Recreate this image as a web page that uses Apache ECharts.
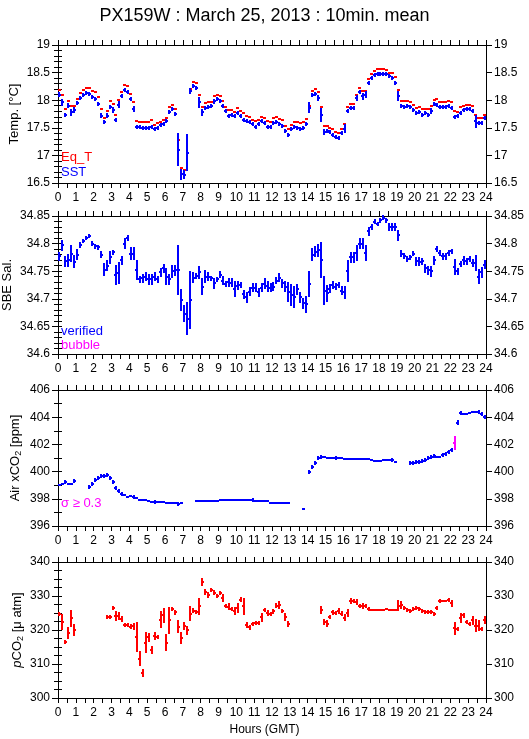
<!DOCTYPE html>
<html><head><meta charset="utf-8">
<script src="https://cdn.jsdelivr.net/npm/echarts@6/dist/echarts.min.js"></script>
<style>html,body{margin:0;padding:0;background:#fff}#c{width:529px;height:739px}</style>
</head><body><div id="c"></div>
<script>
const TITLE = 'PX159W : March 25, 2013 : 10min. mean';
// 10-minute bins: sample i covers [i*STEP, (i+1)*STEP] hours
const STEP = 1 / 6;

const sst = [
 18.10,17.96,17.73,17.90,17.78,17.82, 17.95,18.04,18.09,18.13,18.12,18.06,
 18.02,17.93,17.72,17.60,17.72,17.88, 17.82,17.65,17.92,18.07,18.18,18.15,
 18.02,17.84,17.52,17.51,17.50,17.50, 17.50,17.52,17.47,17.49,17.55,17.57,
 17.63,17.79,17.84,17.75,17.10,16.66, 16.65,17.05,18.17,18.25,18.22,17.96,
 17.78,17.86,17.88,17.90,17.98,18.02, 17.98,17.89,17.81,17.71,17.73,17.71,
 17.76,17.72,17.64,17.63,17.60,17.56, 17.51,17.56,17.62,17.59,17.52,17.52,
 17.59,17.60,17.56,17.53,17.45,17.37, 17.48,17.51,17.50,17.48,17.49,17.57,
 17.86,18.09,18.12,18.04,17.73,17.42, 17.45,17.43,17.37,17.33,17.31,17.41,
 17.48,17.80,17.86,17.86,18.04,18.15, 18.07,18.10,18.31,18.41,18.46,18.48,
 18.48,18.48,18.47,18.44,18.40,18.31, 18.07,17.90,17.88,17.89,17.87,17.82,
 17.77,17.79,17.74,17.76,17.73,17.80, 17.93,17.92,17.87,17.87,17.87,17.89,
 17.86,17.70,17.72,17.77,17.82,17.84, 17.84,17.81,17.62,17.59,17.59,17.67
];
const sstErr = [
 0.05,0.07,0.02,0.05,0.06,0.05, 0.04,0.02,0.02,0.02,0.02,0.02,
 0.02,0.04,0.04,0.02,0.04,0.04, 0.05,0.02,0.06,0.02,0.02,0.02,
 0.02,0.06,0.02,0.02,0.02,0.02, 0.02,0.02,0.02,0.02,0.02,0.03,
 0.03,0.03,0.02,0.03,0.30,0.10, 0.08,0.33,0.05,0.02,0.02,0.10,
 0.06,0.02,0.02,0.02,0.04,0.02, 0.02,0.04,0.02,0.03,0.02,0.02,
 0.02,0.03,0.02,0.02,0.02,0.02, 0.02,0.02,0.02,0.02,0.02,0.02,
 0.02,0.02,0.02,0.02,0.02,0.03, 0.03,0.02,0.02,0.02,0.02,0.03,
 0.10,0.04,0.02,0.05,0.13,0.05, 0.03,0.02,0.02,0.02,0.02,0.03,
 0.08,0.04,0.02,0.02,0.06,0.02, 0.06,0.06,0.03,0.02,0.02,0.02,
 0.02,0.02,0.02,0.02,0.02,0.04, 0.09,0.02,0.02,0.02,0.02,0.02,
 0.02,0.02,0.02,0.02,0.02,0.05, 0.02,0.02,0.02,0.02,0.02,0.02,
 0.02,0.03,0.02,0.02,0.02,0.02, 0.02,0.02,0.12,0.02,0.02,0.03
];
const eqT = [
 18.18,18.10,17.84,17.98,17.90,17.90, 18.02,18.13,18.18,18.22,18.22,18.16,
 18.14,18.06,17.84,17.68,17.80,17.98, 17.93,17.73,18.00,18.15,18.27,18.26,
 18.11,17.96,17.62,17.61,17.60,17.60, 17.60,17.64,17.55,17.58,17.61,17.64,
 17.67,17.87,17.92,17.84,17.27,16.78, 16.73,null,18.20,18.33,18.31,18.10,
 17.88,17.95,17.96,17.97,18.08,18.10, 18.07,17.99,17.88,17.82,17.82,17.79,
 17.85,17.80,17.76,17.72,17.70,17.64, 17.62,17.64,17.70,17.68,17.63,17.60,
 17.68,17.70,17.66,17.64,17.54,17.47, 17.55,17.60,17.60,17.58,17.60,17.66,
 17.90,18.16,18.20,18.15,17.87,17.53, 17.53,17.50,17.48,17.43,17.41,17.47,
 17.56,17.87,17.93,17.93,18.10,18.22, 18.17,18.17,18.39,18.48,18.53,18.57,
 18.57,18.57,18.55,18.50,18.49,18.42, 18.18,17.98,17.98,17.98,17.96,17.91,
 17.86,17.87,17.84,17.84,17.84,17.89, 18.00,18.02,17.97,17.97,17.97,17.98,
 17.96,17.80,17.79,17.87,17.90,17.92, 17.92,17.89,17.74,17.68,17.68,17.74
];
const sal = [
 34.777,34.797,34.768,34.770,34.782,34.767, 34.780,34.797,34.805,34.810,34.814,34.800,
 34.795,34.793,34.780,34.753,34.760,34.775, 34.784,34.743,34.747,34.770,34.800,34.810,
 34.782,34.782,34.752,34.735,34.737,34.740, 34.735,34.735,34.740,34.735,34.748,34.755,
 34.740,34.735,34.750,34.752,34.752,34.698, 34.673,34.664,34.698,34.738,34.741,34.748,
 34.722,34.740,34.740,34.737,34.728,34.735, 34.744,34.733,34.727,34.730,34.729,34.718,
 34.724,34.725,34.708,34.703,34.713,34.720, 34.720,34.712,34.720,34.727,34.723,34.720,
 34.722,34.733,34.738,34.728,34.722,34.713, 34.707,34.703,34.717,34.703,34.692,34.690,
 34.727,34.780,34.785,34.788,34.770,34.715, 34.710,34.718,34.725,34.722,34.725,34.715,
 34.712,34.750,34.775,34.775,34.783,34.800, 34.800,34.783,34.822,34.830,34.840,34.835,
 34.842,34.847,34.842,34.830,34.830,34.830, 34.815,34.782,34.778,34.772,34.775,34.782,
 34.768,34.767,34.768,34.755,34.752,34.750, 34.770,34.790,34.783,34.777,34.777,34.783,
 34.786,34.758,34.750,34.763,34.770,34.768, 34.772,34.765,34.765,34.740,34.748,34.762
];
const salErr = [
 0.008,0.010,0.010,0.012,0.015,0.012, 0.010,0.005,0.004,0.004,0.004,0.004,
 0.005,0.005,0.006,0.012,0.010,0.012, 0.005,0.018,0.020,0.008,0.010,0.006,
 0.012,0.012,0.018,0.006,0.008,0.008, 0.010,0.010,0.008,0.006,0.008,0.008,
 0.015,0.010,0.012,0.010,0.045,0.020, 0.015,0.030,0.052,0.010,0.005,0.012,
 0.015,0.012,0.008,0.005,0.010,0.004, 0.006,0.008,0.005,0.008,0.008,0.015,
 0.008,0.005,0.008,0.010,0.008,0.008, 0.008,0.008,0.008,0.010,0.010,0.008,
 0.008,0.006,0.008,0.008,0.010,0.018, 0.020,0.020,0.010,0.010,0.010,0.015,
 0.024,0.012,0.010,0.012,0.032,0.026, 0.015,0.008,0.008,0.006,0.006,0.008,
 0.012,0.020,0.010,0.010,0.015,0.010, 0.010,0.015,0.008,0.005,0.005,0.004,
 0.004,0.004,0.004,0.008,0.008,0.008, 0.010,0.006,0.005,0.006,0.004,0.004,
 0.008,0.008,0.006,0.008,0.008,0.010, 0.008,0.005,0.005,0.006,0.006,0.005,
 0.005,0.015,0.006,0.006,0.008,0.006, 0.006,0.008,0.015,0.014,0.010,0.008
];
const airCO2 = [
 399.02,399.10,399.20,399.12,399.10,399.32, null,null,null,null,398.85,399.10,
 399.37,399.56,399.66,399.70,399.78,399.51, 399.24,398.76,398.56,398.34,398.27,398.15,
 398.18,398.12,398.05,397.92,397.90,397.88, 397.82,397.78,397.78,397.78,397.78,397.76,
 397.72,397.70,397.68,397.66,397.64,397.68, null,null,null,null,397.83,397.83,
 397.83,397.83,397.83,397.83,397.83,397.83, 397.90,397.90,397.90,397.90,397.90,397.90,
 397.90,397.90,397.90,397.90,397.90,397.92, 397.83,397.83,397.83,397.83,397.83,397.72,
 397.66,397.66,397.66,397.66,397.66,397.66, null,null,null,null,397.24,null,
 400.00,400.37,400.66,401.00,401.07,401.05, 401.02,401.00,400.98,400.98,401.02,400.98,
 400.95,400.95,400.95,400.95,400.95,400.95, 400.92,400.90,400.90,400.82,400.80,400.80,
 400.80,400.86,400.86,400.86,400.84,400.68, null,null,null,null,400.60,400.65,
 400.70,400.72,400.75,400.88,400.98,401.05, 401.12,401.10,401.10,401.20,401.32,401.42,
 401.62,402.10,403.60,404.28,404.22,404.22, 404.28,404.35,404.38,404.35,404.25,404.05
];
const airErr = [
 0,0,0.05,0,0,0.08, 0,0,0,0,0.08,0.08,
 0.08,0.06,0.06,0.06,0.10,0.06, 0.10,0.06,0.05,0.05,0,0,
 0,0.05,0,0,0,0, 0,0,0.05,0,0,0,
 0,0,0,0,0.05,0, 0,0,0,0,0,0,
 0,0,0,0,0,0, 0,0,0,0,0,0,
 0,0,0,0,0,0.05, 0,0,0,0,0,0,
 0,0,0,0,0,0, 0,0,0,0,0,0,
 0.10,0.08,0.08,0.10,0.05,0, 0,0,0,0.05,0,0,
 0,0,0,0,0,0, 0,0,0,0,0,0,
 0,0,0,0,0.05,0, 0,0,0,0,0.05,0.05,
 0.05,0.05,0.05,0.08,0.05,0.05, 0.05,0,0,0.05,0.05,0.05,
 0.05,0.50,0.20,0.05,0,0, 0,0,0,0.05,0.05,0.05
];
const pco2 = [
 324.8,322.3,316.6,319.2,323.5,320.0, null,null,null,null,null,null,
 null,null,null,null,323.8,323.8, 326.5,324.2,324.0,323.3,321.6,321.5,
 321.0,321.1,318.0,311.6,307.3,316.3, 317.8,314.2,318.3,318.0,323.0,324.3,
 316.3,322.8,326.2,325.2,321.0,317.7, 321.2,319.9,324.8,325.7,325.2,327.0,
 334.1,331.2,330.3,331.9,331.0,329.9, 330.9,329.3,327.0,326.9,326.3,325.5,
 326.5,328.9,327.0,321.5,320.8,321.8, 322.2,322.1,323.7,325.8,325.0,324.8,
 325.5,327.2,327.3,325.7,323.8,321.8, null,null,null,null,null,null,
 null,null,null,null,325.8,322.4, 321.8,323.8,325.2,324.9,325.6,324.8,
 323.6,325.0,328.5,328.5,328.3,327.1, 327.0,327.2,326.3,326.0,326.0,326.0,
 326.0,326.0,326.1,326.0,325.8,325.8, 327.2,327.3,326.5,325.8,325.7,326.1,
 326.6,326.3,325.5,325.4,325.2,325.4, 324.8,326.6,328.4,328.5,328.6,328.7,
 327.8,320.5,320.3,323.5,324.3,322.3, 321.8,322.8,321.3,321.3,320.3,323.0
];
const pco2Err = [
 0.3,2.3,0.6,1.8,2.5,1.7, 0,0,0,0,0,0,
 0,0,0,0,0.5,0.5, 0.6,1.5,1.2,0.8,0.5,0.5,
 0.7,1.0,4.5,2.2,1.2,3.2, 1.3,1.2,1.2,0.6,2.5,2.2,
 2.4,4.0,0.6,0.8,2.0,1.8, 1.3,1.3,2.2,0.8,0.6,2.5,
 1.2,0.8,0.8,0.6,0.8,0.6, 0.6,1.2,0.6,1.0,0.6,1.2,
 1.5,0.8,2.5,0.8,0.8,0.4, 0.4,0.4,1.2,0.6,0.8,0.6,
 0.8,0.6,1.2,0.6,1.2,0.8, 0,0,0,0,0,0,
 0,0,0,0,1.2,0.8, 1.0,0.6,0.8,0.6,0.8,0.8,
 1.0,1.2,0.8,0.6,0.8,0.4, 0.8,0.3,0.5,0,0,0,
 0,0,0,0,0,0, 1.5,1.2,0.6,0.6,0.5,0.5,
 0.5,0.5,0.4,0.4,0.4,0.4, 0.5,0.6,0.3,0,0,0.3,
 1.0,2.0,0.5,1.5,0.8,0.4, 0.3,1.3,1.8,1.6,0.5,1.2
];

const BLUE = '#0000ff', RED = '#ff0000', MAG = '#ff00ff';
const FONT = '"Liberation Sans", Arial, Helvetica, sans-serif';
const SIGMA_LIMIT = 0.3;

const grids = [
  {left: 58, right: 43, top: 45, height: 138},
  {left: 58, right: 43, top: 216, height: 138},
  {left: 58, right: 43, top: 390, height: 136},
  {left: 58, right: 43, top: 562, height: 136}
];
const panels = [
  {min: 16.5, max: 19, interval: 0.5, minor: 0.1, name: 'Temp. [°C]', gap: 37},
  {min: 34.6, max: 34.85, interval: 0.05, minor: 0.01, name: 'SBE Sal.', gap: 44},
  {min: 396, max: 406, interval: 2, minor: 1, name: '{n|Air xCO}{s|2}{n| [ppm]}', gap: 35},
  {min: 300, max: 340, interval: 10, minor: 2.5, name: '{i|p}{n|CO}{s|2}{n| [μ atm]}', gap: 33}
];

const xAxes = [], yAxes = [];
grids.forEach((g, gi) => {
  xAxes.push({
    gridIndex: gi, type: 'value', position: 'bottom', min: 0, max: 24, interval: 0.5,
    axisLine: {show: true, onZero: false, lineStyle: {color: '#000', width: 1}},
    axisTick: {show: true, inside: false, length: 5, lineStyle: {color: '#000'}},
    axisLabel: {show: true, margin: 9, fontSize: 12, fontFamily: FONT, color: '#000',
      formatter: v => (Math.abs(v - Math.round(v)) < 1e-6 ? String(Math.round(v)) : '')},
    splitLine: {show: false}
  });
  xAxes.push({
    gridIndex: gi, type: 'value', position: 'top', min: 0, max: 24, interval: 0.5,
    axisLine: {show: true, onZero: false, lineStyle: {color: '#000', width: 1}},
    axisTick: {show: true, inside: false, length: 5, lineStyle: {color: '#000'}},
    axisLabel: {show: false}, splitLine: {show: false}
  });
  const p = panels[gi];
  const base = {gridIndex: gi, type: 'value', min: p.min, max: p.max, splitLine: {show: false}};
  ['left', 'right'].forEach(pos => {
    yAxes.push(Object.assign({}, base, {
      position: pos, interval: p.interval,
      axisLine: {show: true, onZero: false, lineStyle: {color: '#000', width: 1}},
      axisTick: {show: true, inside: false, length: 6, lineStyle: {color: '#000'}},
      axisLabel: {show: true, margin: 8, fontSize: 12, fontFamily: FONT, color: '#000'},
      name: pos === 'left' ? p.name : '', nameLocation: 'middle', nameRotate: 90, nameGap: p.gap,
      nameMoveOverlap: false,
      nameTextStyle: {fontSize: 13, fontFamily: FONT, color: '#000',
        rich: {
          n: {fontSize: 13, fontFamily: FONT, color: '#000', lineHeight: 16},
          i: {fontSize: 13, fontFamily: FONT, fontStyle: 'italic', color: '#000', lineHeight: 16},
          s: {fontSize: 9, fontFamily: FONT, color: '#000', lineHeight: 16, verticalAlign: 'bottom', padding: [6, 0, 0, 0]}
        }}
    }));
  });
  ['left', 'right'].forEach(pos => {
    yAxes.push(Object.assign({}, base, {
      position: pos, interval: p.minor,
      axisLine: {show: false},
      axisTick: {show: true, inside: true, length: 4, lineStyle: {color: '#000'}},
      axisLabel: {show: false}
    }));
  });
});

function toItems(vals, errs) {
  const out = [];
  vals.forEach((v, i) => { if (v != null) out.push([i * STEP, v, errs ? errs[i] : 0]); });
  return out;
}

function makeRender(colorFn, bars, minHalf) {
  return function (params, api) {
    const t = api.value(0), v = api.value(1), e = api.value(2);
    const color = colorFn(e);
    const a = api.coord([t, v]), b = api.coord([t + STEP, v]);
    const y = Math.round(a[1]);
    const x1 = Math.round(a[0]), x2 = Math.round(b[0]);
    const cx = Math.round((a[0] + b[0]) / 2);
    const children = [{type: 'line', shape: {x1: x1, y1: y, x2: Math.max(x2, x1 + 3), y2: y},
      style: {stroke: color, lineWidth: 2}}];
    if (bars && e > 0) {
      let y1 = api.coord([t, v + e])[1], y2 = api.coord([t, v - e])[1];
      if (a[1] - y1 < minHalf) { y1 = a[1] - minHalf; y2 = a[1] + minHalf; }
      children.push({type: 'line', shape: {x1: cx, y1: Math.round(y1), x2: cx, y2: Math.round(y2)},
        style: {stroke: color, lineWidth: 2}});
    }
    return {type: 'group', children: children};
  };
}

const series = [
  {type: 'custom', xAxisIndex: 0, yAxisIndex: 0, data: toItems(eqT, null),
   encode: {x: 0, y: 1}, renderItem: makeRender(() => RED, false, 0), z: 2},
  {type: 'custom', xAxisIndex: 0, yAxisIndex: 0, data: toItems(sst, sstErr),
   encode: {x: 0, y: 1}, renderItem: makeRender(() => BLUE, true, 2), z: 3},
  {type: 'custom', xAxisIndex: 2, yAxisIndex: 4, data: toItems(sal, salErr),
   encode: {x: 0, y: 1}, renderItem: makeRender(() => BLUE, true, 2), z: 3},
  {type: 'custom', xAxisIndex: 4, yAxisIndex: 8, data: toItems(airCO2, airErr),
   encode: {x: 0, y: 1}, renderItem: makeRender(e => (e >= SIGMA_LIMIT ? MAG : BLUE), true, 2), z: 3},
  {type: 'custom', xAxisIndex: 6, yAxisIndex: 12, data: toItems(pco2, pco2Err),
   encode: {x: 0, y: 1}, renderItem: makeRender(() => RED, true, 2), z: 3}
];

const txt = (x, y, s, color, size) => ({type: 'text', left: x, top: y,
  style: {text: s, fill: color, fontSize: size || 13, fontFamily: FONT}});

const chart = echarts.init(document.getElementById('c'), null, {renderer: 'canvas'});
chart.setOption({
  animation: false,
  backgroundColor: '#fff',
  title: {text: TITLE, left: 'center', top: 2,
    textStyle: {fontSize: 18, fontWeight: 'normal', fontFamily: FONT, color: '#000'}},
  grid: grids.map(g => Object.assign({outerBoundsMode: 'none', containLabel: false}, g)),
  xAxis: xAxes,
  yAxis: yAxes,
  series: series,
  graphic: [
    txt(61, 151, 'Eq_T', RED), txt(61, 166, 'SST', BLUE),
    txt(61, 325, 'verified', BLUE), txt(61, 339, 'bubble', MAG),
    txt(61, 497, 'σ ≥ 0.3', MAG),
    {type: 'text', left: 'center', top: 724, style: {text: 'Hours (GMT)', fill: '#000', fontSize: 12, fontFamily: FONT}}
  ]
});
</script></body></html>
